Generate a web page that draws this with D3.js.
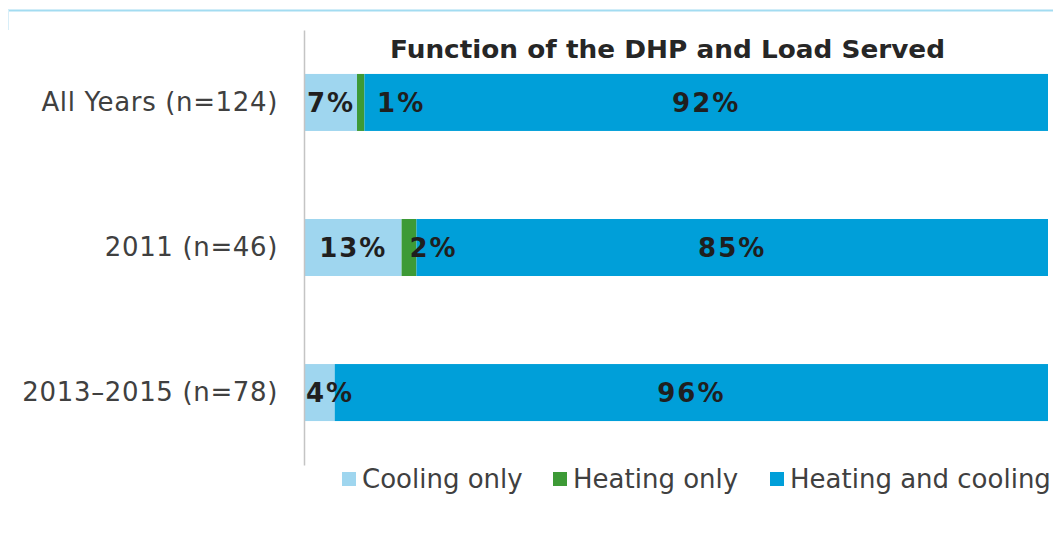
<!DOCTYPE html>
<html>
<head>
<meta charset="utf-8">
<script src="https://cdn.jsdelivr.net/npm/d3@7"></script>
<style>
  body { margin: 0; background: #fff; }
</style>
</head>
<body>
<div id="chart"></div>
<script>
// Chart data
var categories = ["All Years (n=124)", "2011 (n=46)", "2013\u20132015 (n=78)"];
var seriesNames = ["Cooling only", "Heating only", "Heating and cooling"];
var coolingOnly = [7, 13, 4];
var heatingOnly = [1, 2, 0];
var heatingAndCooling = [92, 85, 96];
var colors = ["#9fd6ef", "#3d9a36", "#009fd9"];

var width = 1053, height = 533;

var svg = d3.select("#chart")
  .append("svg")
  .attr("width", width)
  .attr("height", height)
  .style("font-family", "'DejaVu Sans', Verdana, sans-serif");

// light frame line at the top
svg.append("line")
  .attr("x1", 8).attr("x2", width)
  .attr("y1", 10.5).attr("y2", 10.5)
  .attr("stroke", "#a3dcf1").attr("stroke-width", 2);
svg.append("line")
  .attr("x1", 8.5).attr("x2", 8.5)
  .attr("y1", 10).attr("y2", 30)
  .attr("stroke", "#d8eef8").attr("stroke-width", 1);

// Scales
var x = d3.scaleLinear().domain([0, 100]).range([305, 1048]);
var y = d3.scaleBand()
  .domain(categories)
  .range([30, 465])
  .paddingInner(0.607)
  .paddingOuter(0.303);

// build stacked rows
var rows = categories.map(function(c, i) {
  return { cat: c, values: [coolingOnly[i], heatingOnly[i], heatingAndCooling[i]] };
});
var stack = d3.stack().keys([0, 1, 2]).value(function(d, k) { return d.values[k]; });
var layers = stack(rows);

// Bars
svg.selectAll(".layer")
  .data(layers)
  .enter().append("g")
  .attr("class", "layer")
  .attr("fill", function(d, i) { return colors[i]; })
  .selectAll("rect")
  .data(function(d) { return d; })
  .enter().append("rect")
  .attr("x", function(d) { return x(d[0]); })
  .attr("y", function(d) { return y(d.data.cat); })
  .attr("width", function(d) { return x(d[1]) - x(d[0]); })
  .attr("height", y.bandwidth());

// Y axis
var yAxis = svg.append("g")
  .attr("transform", "translate(304,0)")
  .call(d3.axisLeft(y).tickSize(0).tickPadding(26));
yAxis.select(".domain").attr("stroke", "#c4c4c4").attr("stroke-width", 1.5);
yAxis.selectAll("text")
  .style("font-family", "'DejaVu Sans', Verdana, sans-serif")
  .style("font-size", "26px")
  .style("letter-spacing", "0.65px")
  .attr("fill", "#404040");

// Data labels
rows.forEach(function(r) {
  var cy = y(r.cat) + y.bandwidth() / 2;
  var x0 = 0, prevEnd = x(0);
  r.values.forEach(function(v, k) {
    if (v > 0) {
      var t = svg.append("text")
        .attr("y", cy)
        .attr("dy", "0.36em")
        .style("font-size", "26px")
        .style("font-weight", "bold")
        .style("letter-spacing", "2px")
        .attr("fill", "#1f1f1f")
        .attr("text-anchor", "start")
        .text(v + "%");
      var w = t.node().getComputedTextLength();
      var centre = (x(x0) + x(x0 + v)) / 2;
      if (k == 0) centre = Math.max(centre, x(0) + w / 2 + 1);
      else centre = Math.max(centre, prevEnd + 22 + w / 2);
      t.attr("x", centre - w / 2);
      prevEnd = centre + w / 2;
    }
    x0 += v;
  });
});

// Title
svg.append("text")
  .attr("x", 390)
  .attr("y", 58)
  .attr("textLength", 555)
  .attr("lengthAdjust", "spacingAndGlyphs")
  .style("font-size", "25px")
  .style("font-weight", "bold")
  .attr("fill", "#262626")
  .text("Function of the DHP and Load Served");

// Legend
var legendX = [342, 553, 770];
var legend = svg.selectAll(".legend")
  .data(seriesNames)
  .enter().append("g")
  .attr("class", "legend")
  .attr("transform", function(d, i) { return "translate(" + legendX[i] + ",479)"; });
legend.append("rect")
  .attr("x", 0).attr("y", -7)
  .attr("width", 14).attr("height", 14)
  .attr("fill", function(d, i) { return colors[i]; });
legend.append("text")
  .attr("x", 20)
  .attr("dy", "0.36em")
  .style("font-size", "26px")
  .attr("fill", "#404040")
  .text(function(d) { return d; });
</script>
</body>
</html>
